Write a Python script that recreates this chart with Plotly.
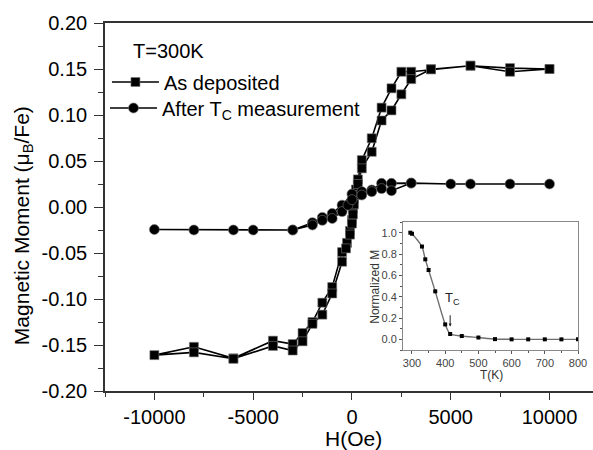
import plotly.graph_objects as go

# ---------------- data ----------------
# As deposited: descending branch (+10000 -> -10000)
h_dep_down = [10000, 8000, 6000, 4000, 3000, 2500, 2000, 1500, 1000, 500, 300, 200, 100, 50, 0,
              -100, -250, -500, -1000, -1500, -2000, -2500, -3000, -4000, -6000, -8000, -10000]
m_dep_down = [0.150, 0.151, 0.1536, 0.1497, 0.147, 0.147, 0.129, 0.108, 0.0747, 0.051, 0.030, 0.019, 0.009, -0.002, -0.014,
              -0.026, -0.039, -0.049, -0.087, -0.104, -0.125, -0.137, -0.149, -0.1453, -0.1645, -0.152, -0.161]
# As deposited: ascending branch (-10000 -> +10000)
h_dep_up = [-10000, -8000, -6000, -4000, -3000, -2500, -2000, -1500, -1000, -500, -300, -100, 0, 50,
            100, 200, 300, 500, 1000, 1500, 2000, 2500, 3000, 4000, 6000, 8000, 10000]
m_dep_up = [-0.161, -0.158, -0.165, -0.151, -0.156, -0.146, -0.127, -0.117, -0.094, -0.0595, -0.045, -0.030, -0.018, -0.008,
            0.003, 0.013, 0.025, 0.042, 0.060, 0.094, 0.105, 0.1225, 0.139, 0.1497, 0.1536, 0.147, 0.150]

# After Tc measurement: descending branch
h_tc_down = [10000, 8000, 6000, 5000, 3000, 2000, 1500, 1000, 500, 0, -500, -1000, -1500, -2000, -3000,
             -5000, -6000, -8000, -10000]
m_tc_down = [0.025, 0.025, 0.025, 0.025, 0.026, 0.0257, 0.0257, 0.0185, 0.0167, 0.014, 0.002, -0.007, -0.0113, -0.017, -0.025,
             -0.025, -0.025, -0.025, -0.0245]
# After Tc measurement: ascending branch
h_tc_up = [-3000, -2000, -1500, -1000, -500, -200, 0, 500, 1000, 1500, 2000, 3000]
m_tc_up = [-0.025, -0.0196, -0.0145, -0.0125, -0.005, 0.002, 0.008, 0.013, 0.0167, 0.020, 0.0177, 0.026]

# Inset: normalized M vs T
t_inset = [295, 300, 330, 340, 350, 370, 400, 415, 450, 500, 550, 600, 650, 700, 750, 800]
m_inset = [1.0, 0.99, 0.87, 0.75, 0.65, 0.45, 0.14, 0.05, 0.031, 0.017, 0.002, 0.0, 0.0, 0.0, 0.0, 0.0]

x_ticks = [-10000, -5000, 0, 5000, 10000]
x_ticktext = ["-10000", "-5000", "0", "5000", "10000"]
y_ticks = [-0.20, -0.15, -0.10, -0.05, 0.00, 0.05, 0.10, 0.15, 0.20]
y_ticktext = ["-0.20", "-0.15", "-0.10", "-0.05", "0.00", "0.05", "0.10", "0.15", "0.20"]
ix_ticks = [300, 400, 500, 600, 700, 800]
ix_ticktext = ["300", "400", "500", "600", "700", "800"]
iy_ticks = [0.0, 0.2, 0.4, 0.6, 0.8, 1.0]
iy_ticktext = ["0.0", "0.2", "0.4", "0.6", "0.8", "1.0"]

FONT = "Liberation Sans, Arial, sans-serif"
AX = "#333333"

fig = go.Figure()

fig.add_trace(go.Scatter(
    x=h_dep_down + h_dep_up[1:], y=m_dep_down + m_dep_up[1:],
    mode="lines+markers", name="As deposited", legend="legend3",
    line=dict(color="black", width=1.6),
    marker=dict(symbol="square", size=9, color="black", line=dict(color="#777777", width=0.6)),
))
fig.add_trace(go.Scatter(
    x=h_tc_down + h_tc_up, y=m_tc_down + m_tc_up,
    mode="lines+markers", name="After T<sub>C</sub> measurement", legend="legend2",
    line=dict(color="black", width=1.6),
    marker=dict(symbol="circle", size=10, color="black", line=dict(color="#777777", width=0.6)),
))

# inset
fig.add_trace(go.Scatter(
    x=t_inset, y=m_inset, xaxis="x2", yaxis="y2",
    mode="lines+markers", showlegend=False,
    line=dict(color="#6e6e6e", width=1.4, shape="spline", smoothing=0.6),
    marker=dict(symbol="square", size=4, color="black"),
))

legend_common = dict(xanchor="left", yanchor="middle", bgcolor="rgba(0,0,0,0)", borderwidth=0,
                     font=dict(family=FONT, size=20, color="black"), itemsizing="trace", itemwidth=47)

fig.update_layout(
    width=593, height=450,
    margin=dict(l=105, r=0, t=23, b=59, autoexpand=False),
    paper_bgcolor="white", plot_bgcolor="white",
    font=dict(family=FONT, size=20, color="black"),
    showlegend=True,
    legend=dict(x=0.0, y=0.8397, **legend_common),
    legend3=dict(x=0.004, y=0.8397, **legend_common),
    legend2=dict(x=0.0, y=0.769, **legend_common),
    xaxis=dict(
        range=[-12500, 12200], domain=[0, 1],
        tickmode="array", tickvals=x_ticks, ticktext=x_ticktext,
        ticks="outside", ticklen=7, tickwidth=1.3, tickcolor=AX,
        minor=dict(tickmode="linear", tick0=0, dtick=2500, ticks="outside", ticklen=4, tickcolor=AX, tickwidth=1.2),
        showline=True, linecolor=AX, linewidth=1.6, mirror=True,
        showgrid=False, zeroline=False,
        tickfont=dict(family=FONT, size=20, color="black"),
    ),
    yaxis=dict(
        range=[-0.2, 0.2], domain=[0, 1],
        tickmode="array", tickvals=y_ticks, ticktext=y_ticktext,
        ticks="outside", ticklen=9, tickwidth=1.3, tickcolor=AX, ticklabelstandoff=3,
        minor=dict(tickmode="linear", tick0=0, dtick=0.025, ticks="outside", ticklen=5, tickcolor=AX, tickwidth=1.2),
        showline=True, linecolor=AX, linewidth=1.6, mirror=False,
        showgrid=False, zeroline=False,
        tickfont=dict(family=FONT, size=20, color="black"),
    ),
    xaxis2=dict(
        domain=[0.6107, 0.9693], anchor="y2", range=[273, 800],
        tickmode="array", tickvals=ix_ticks, ticktext=ix_ticktext,
        ticks="outside", ticklen=3, tickcolor="#555555", tickwidth=1,
        minor=dict(tickmode="linear", tick0=300, dtick=50, ticks="outside", ticklen=2, tickcolor="#555555"),
        showline=True, linecolor="#888888", linewidth=1, mirror=True,
        showgrid=False, zeroline=False,
        tickfont=dict(family=FONT, size=11, color="#444444"),
    ),
    yaxis2=dict(
        domain=[0.1114, 0.4592], anchor="x2", range=[-0.1, 1.1],
        tickmode="array", tickvals=iy_ticks, ticktext=iy_ticktext,
        ticks="outside", ticklen=3, tickcolor="#555555", tickwidth=1,
        minor=dict(tickmode="linear", tick0=0, dtick=0.1, ticks="outside", ticklen=2, tickcolor="#555555"),
        showline=True, linecolor="#888888", linewidth=1, mirror=True,
        showgrid=False, zeroline=False,
        tickfont=dict(family=FONT, size=11, color="#444444"),
    ),
    annotations=[
        dict(text="T=300K", xref="paper", yref="paper", x=0.131, y=0.924,
             xanchor="center", yanchor="middle", showarrow=False,
             font=dict(family=FONT, size=20, color="black")),
        dict(text="H(Oe)", xref="paper", yref="paper", x=0.51, y=-0.1304,
             xanchor="center", yanchor="middle", showarrow=False,
             font=dict(family=FONT, size=21, color="black")),
        dict(text="Magnetic Moment (μ<sub>B</sub>/Fe)", xref="paper", yref="paper", x=-0.168, y=0.448,
             xanchor="center", yanchor="middle", showarrow=False, textangle=-90,
             font=dict(family=FONT, size=21, color="black")),
        dict(text="Normalized M", xref="paper", yref="paper", x=0.553, y=0.283,
             xanchor="center", yanchor="middle", showarrow=False, textangle=-90,
             font=dict(family=FONT, size=12, color="#333333")),
        dict(text="T(K)", xref="paper", yref="paper", x=0.791, y=0.0435,
             xanchor="center", yanchor="middle", showarrow=False,
             font=dict(family=FONT, size=12, color="#333333")),
        dict(text="T<sub>C</sub>", xref="x2", yref="y2", x=421, y=0.38,
             xanchor="center", yanchor="middle", showarrow=False,
             font=dict(family=FONT, size=13, color="#222222")),
        dict(text="", xref="x2", yref="y2", x=415, y=0.12,
             axref="x2", ayref="y2", ax=415, ay=0.24,
             showarrow=True, arrowhead=2, arrowsize=0.6, arrowwidth=1, arrowcolor="#222222"),
    ],
)

fig.write_html("out.html", config={"displayModeBar": False})
